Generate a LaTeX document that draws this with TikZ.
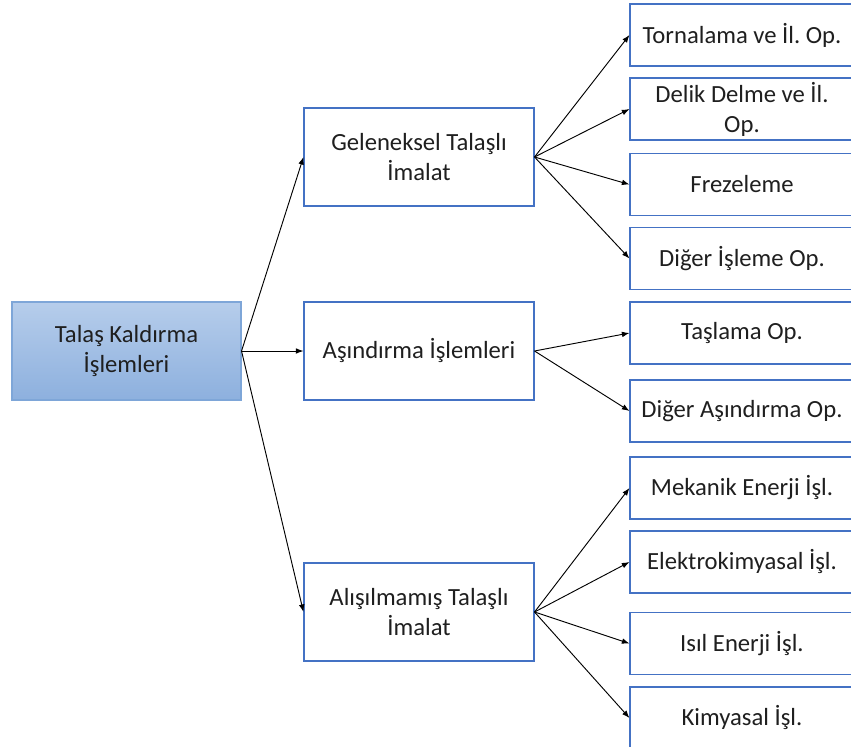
\documentclass[tikz,border=0pt]{standalone}
\usepackage{fontspec}
\setmainfont{Carlito}
\usepackage{tikz}
\usetikzlibrary{arrows.meta}
\definecolor{boxline}{HTML}{4472C4}
\definecolor{rootline}{HTML}{7EA6D8}
\definecolor{roottop}{HTML}{B6CDEB}
\definecolor{rootbot}{HTML}{8DB0DE}
\frenchspacing

\begin{document}
\begin{tikzpicture}[x=0.75pt, y=-0.75pt, >={Latex[length=2mm]},
	every node/.style={font=\fontsize{18.5}{22.5}\selectfont, text=black!88, align=center, inner sep=0pt},
	rootbox/.style={draw=rootline, line width=0.8pt, top color=roottop, bottom color=rootbot, minimum width=229*0.75pt, minimum height=98*0.75pt},
	midbox/.style={draw=boxline, line width=0.8pt, fill=white, minimum width=230*0.75pt, minimum height=98*0.75pt},
	leafbox/.style={draw=boxline, line width=0.8pt, fill=white, minimum width=224*0.75pt, minimum height=62*0.75pt}]
	\useasboundingbox (0,0) rectangle (851,747);
	% root and middle column
	\node[rootbox] (root) at (126.5,351) {Talaş Kaldırma\\İşlemleri};
	\node[midbox] (gel) at (419,157) {Geleneksel Talaşlı\\İmalat};
	\node[midbox] (asin) at (419,351) {Aşındırma İşlemleri};
	\node[midbox] (alis) at (419,612) {Alışılmamış Talaşlı\\İmalat};
	% right column
	\node[leafbox] (t1) at (742,35) {Tornalama ve İl. Op.};
	\node[leafbox] (t2) at (742,109) {Delik Delme ve İl.\\Op.};
	\node[leafbox] (t3) at (742,184.5) {Frezeleme};
	\node[leafbox] (t4) at (742,258.5) {Diğer İşleme Op.};
	\node[leafbox] (a1) at (742,333) {Taşlama Op.};
	\node[leafbox] (a2) at (742,411) {Diğer Aşındırma Op.};
	\node[leafbox] (u1) at (742,488) {Mekanik Enerji İşl.};
	\node[leafbox] (u2) at (742,562) {Elektrokimyasal İşl.};
	\node[leafbox] (u3) at (742,643.5) {Isıl Enerji İşl.};
	\node[leafbox] (u4) at (742,718) {Kimyasal İşl.};
	% connectors
	\foreach \m in {gel,asin,alis}
		\draw[->, line width=0.7pt] (root.east) -- (\m.west);
	\foreach \l in {t1,t2,t3,t4}
		\draw[->, line width=0.7pt] (gel.east) -- (\l.west);
	\foreach \l in {a1,a2}
		\draw[->, line width=0.7pt] (asin.east) -- (\l.west);
	\foreach \l in {u1,u2,u3,u4}
		\draw[->, line width=0.7pt] (alis.east) -- (\l.west);
\end{tikzpicture}
\end{document}
